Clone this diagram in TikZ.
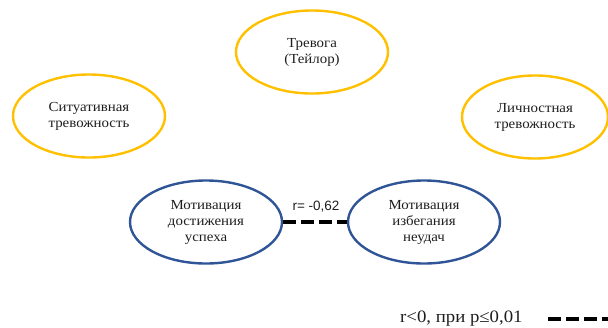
\documentclass[tikz,border=0pt]{standalone}
\usepackage{fontspec}
\setmainfont{Liberation Serif}[FakeStretch=1.08]
\newfontfamily\labelsans{Liberation Sans}
\usetikzlibrary{shapes.geometric}
\definecolor{gold}{RGB}{255,192,0}
\definecolor{navy}{RGB}{47,85,151}
\definecolor{ink}{RGB}{30,30,30}
\begin{document}
\begin{tikzpicture}[x=1pt,y=-1pt,
  oval/.style={ellipse, draw, line width=2.4pt, minimum width=152pt, minimum height=83pt,
     align=center, inner sep=0pt, text=ink,
     font=\fontsize{13.8pt}{16pt}\selectfont},
  yoval/.style={oval, draw=gold},
  boval/.style={oval, draw=navy},
  negline/.style={line width=3.8pt, dash pattern=on 13pt off 5pt}
]
\useasboundingbox (0,0) rectangle (608,327);
\node[yoval] (tr) at (312,52) {Тревога\\(Тейлор)};
\node[yoval] (sit) at (89,116) {Ситуативная\\тревожность};
\node[yoval, minimum width=146pt] (lich) at (535,117) {Личностная\\тревожность};
\node[boval] (dost) at (206,222) {Мотивация\\достижения\\успеха};
\node[boval] (izb) at (424,222) {Мотивация\\избегания\\неудач};
\draw[negline] (dost.east) -- (izb.west);
\node[font=\labelsans\fontsize{13.5pt}{15pt}\selectfont, text=ink] (r) at (316,207) {r= -0,62};
\node[font=\fontsize{17.4pt}{19pt}\selectfont, text=ink, anchor=west, inner sep=0pt] (leg) at (400,319) {r<0, при p≤0,01};
\coordinate (le) at (610,319);
\coordinate (ls) at (548,319);
\draw[negline] (ls) -- (le);
\end{tikzpicture}
\end{document}
